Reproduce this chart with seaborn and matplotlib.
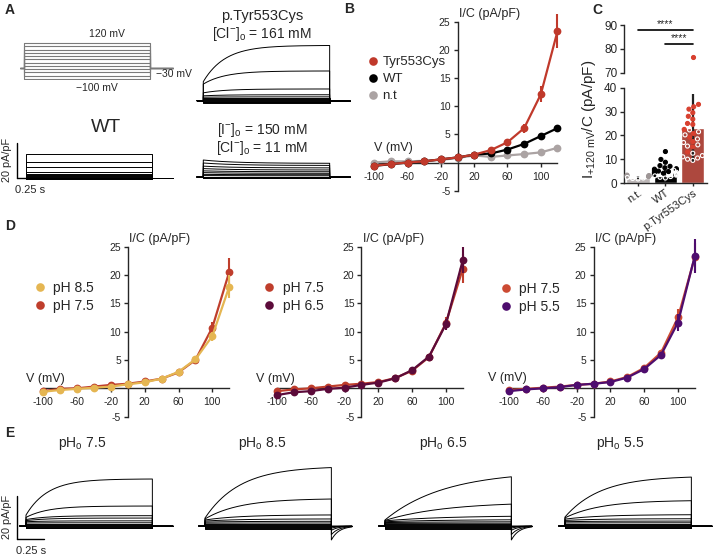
import warnings
warnings.filterwarnings('ignore')
import numpy as np
import pandas as pd
import matplotlib
matplotlib.use("Agg")
import matplotlib.pyplot as plt
import seaborn as sns
from matplotlib.lines import Line2D

sns.set_style("ticks")
plt.rcParams['font.family'] = ['Liberation Sans', 'DejaVu Sans']
plt.rcParams['mathtext.fontset'] = 'custom'
plt.rcParams['mathtext.rm'] = 'Liberation Sans'
plt.rcParams['mathtext.it'] = 'Liberation Sans:italic'
plt.rcParams['axes.unicode_minus'] = False
plt.rcParams['axes.linewidth'] = 1.0
plt.rcParams['xtick.major.width'] = 1.0
plt.rcParams['ytick.major.width'] = 1.0

# ---------------- data ----------------
V = [-100, -80, -60, -40, -20, 0, 20, 40, 60, 80, 100, 120]

# Panel B  (I/C, pA/pF)
tyr_B = [-0.56, -0.27, 0.0, 0.2, 0.56, 0.9, 1.4, 2.2, 3.6, 6.1, 12.1, 23.3]
tyr_B_err = [0.1, 0.1, 0.1, 0.1, 0.1, 0.1, 0.2, 0.3, 0.5, 0.8, 1.4, 3.0]
wt_B = [-0.6, -0.3, 0.0, 0.2, 0.56, 0.9, 1.4, 1.6, 2.3, 3.3, 4.7, 6.1]
wt_B_err = [0.1, 0.1, 0.1, 0.1, 0.1, 0.1, 0.1, 0.2, 0.3, 0.4, 0.5, 0.6]
nt_B = [0.0, 0.2, 0.2, 0.3, 0.45, 0.8, 1.25, 1.0, 1.25, 1.5, 1.8, 2.6]
nt_B_err = [0.1] * 12

# Panel C
groups = ['n.t.', 'WT', 'p.Tyr553Cys']
bar_means = [2.3, 2.8, 23.2]
bar_sd = [0.8, 2.5, 14.3]
nt_filled = [3.3, 3.1, 2.9, 2.7, 3.0]
nt_open = [2.1, 1.9, 1.7, 2.3]
wt_filled = [13.2, 9.9, 8.7, 7.3, 7.0, 6.4, 6.0, 5.8, 5.5, 5.2, 5.0, 4.8, 4.6, 4.3, 4.1, 3.8, 3.6, 3.3]
wt_open = [5.4, 4.5, 4.0, 3.6, 3.3, 3.0, 2.7, 2.4, 2.1]
tyr_filled = [76.5, 33.0, 32.0, 31.0, 29.5, 28.0, 26.8, 25.0, 24.6, 22.5, 20.8, 19.2, 17.4, 15.2, 13.0]
tyr_open = [22.3, 21.5, 20.2, 18.5, 17.0, 16.0, 15.5, 12.5, 11.5, 11.0, 10.5, 10.0, 9.5]

# Panel D
ph85_D1 = [-0.6, -0.3, -0.1, 0.1, 0.3, 0.7, 1.06, 1.7, 2.9, 5.1, 9.2, 17.9]
ph85_D1_err = [0.1] * 9 + [0.4, 0.8, 2.0]
ph75_D1 = [-0.5, -0.1, 0.0, 0.3, 0.6, 0.8, 1.2, 1.7, 2.8, 5.0, 10.7, 20.5]
ph75_D1_err = [0.1] * 9 + [0.4, 1.0, 2.5]
ph75_D2 = [-0.5, -0.2, 0.0, 0.3, 0.6, 0.8, 1.1, 1.8, 3.1, 5.5, 11.5, 21.1]
ph75_D2_err = [0.1] * 9 + [0.4, 1.0, 2.5]
ph65_D2 = [-1.2, -0.7, -0.5, -0.1, 0.1, 0.6, 1.0, 1.76, 3.2, 5.6, 11.3, 22.6]
ph65_D2_err = [0.1] * 9 + [0.4, 1.0, 2.3]
ph75_D3 = [-0.3, -0.1, 0.1, 0.3, 0.6, 0.8, 1.2, 2.0, 3.6, 6.3, 12.5, 23.2]
ph75_D3_err = [0.1] * 9 + [0.4, 1.5, 2.5]
ph55_D3 = [-0.5, -0.2, 0.0, 0.2, 0.6, 0.8, 1.1, 1.9, 3.4, 5.9, 11.6, 23.4]
ph55_D3_err = [0.1] * 9 + [0.4, 1.5, 3.0]

# Current traces: instantaneous / steady-state amplitudes (pA/pF), time constant, tail amplitude
A_tyr_init = [-1.2, -0.9, -0.6, -0.3, 0.3, 0.8, 1.4, 2.0, 2.8, 4.5, 9.5, 10.9]
A_tyr_ss = [-1.2, -0.9, -0.6, -0.3, 0.3, 0.8, 1.4, 2.2, 3.4, 6.7, 17.0, 31.6]
A_tyr_tau = 0.2
A_wt_init = [-0.9, -0.6, -0.3, 0.0, 0.3, 0.7, 1.2, 1.8, 2.9, 5.9, 8.7, 13.5]
A_wt_ss = A_wt_init
A_iod_init = [-0.8, -0.5, -0.2, 0.2, 0.8, 1.5, 2.5, 3.5, 4.8, 6.2, 8.0, 9.7]
A_iod_ss = [-0.8, -0.5, -0.2, 0.2, 0.7, 1.3, 2.1, 3.0, 4.0, 5.2, 6.6, 7.8]
A_iod_tau = 0.3
zero_tail = [0.0] * 12

E75_init = [-1.0, -0.7, -0.4, 0.0, 0.4, 0.9, 1.4, 2.0, 2.5, 3.0, 4.0, 5.1]
E75_ss = [-1.0, -0.7, -0.4, 0.0, 0.4, 0.9, 1.5, 2.4, 3.7, 4.8, 9.3, 21.9]
E75_tau = 0.2
E85_init = [-1.2, -0.9, -0.5, -0.1, 0.3, 0.8, 1.3, 1.8, 2.3, 2.8, 3.3, 3.7]
E85_ss = [-1.2, -0.9, -0.5, -0.1, 0.3, 0.8, 1.4, 2.2, 3.3, 5.2, 12.8, 27.8]
E85_tau = 0.32
E85_tail = [0, 0, 0, 0, 0, 0, 0, -0.5, -1.0, -2.0, -4.0, -6.5]
E65_init = [-1.2, -0.9, -0.5, -0.1, 0.3, 0.8, 1.2, 1.6, 2.0, 2.4, 2.6, 2.8]
E65_ss = [-1.2, -0.9, -0.5, -0.1, 0.3, 0.8, 1.3, 2.0, 3.0, 4.8, 11.2, 25.6]
E65_tau = 0.55
E65_tail = [0, 0, 0, 0, 0, 0, 0, -0.5, -1.0, -2.0, -4.0, -6.5]
E55_init = [-1.0, -0.7, -0.4, 0.0, 0.4, 0.9, 1.4, 2.0, 2.6, 3.2, 3.8, 4.2]
E55_ss = [-1.0, -0.7, -0.4, 0.0, 0.4, 0.9, 1.5, 2.3, 3.4, 5.3, 12.0, 23.3]
E55_tau = 0.33

# ---------------- colors ----------------
C_TYR = '#C0392B'
C_NT = '#ABA3A3'
C_85 = '#E5B652'
C_75 = '#BF3E2C'
C_65 = '#5C0B3A'
C_55 = '#4E0D6E'

W, H = 718, 559
fig = plt.figure(figsize=(W / 100, H / 100), dpi=100)


def px_axes(x0, y0, sx, sy, xlim, ylim):
    left = x0 + xlim[0] * sx
    right = x0 + xlim[1] * sx
    top = y0 - ylim[1] * sy
    bottom = y0 - ylim[0] * sy
    ax = fig.add_axes([left / W, 1 - bottom / H, (right - left) / W, (bottom - top) / H])
    ax.set_xlim(xlim)
    ax.set_ylim(ylim)
    return ax


def ftext(x, y, s, **kw):
    kw.setdefault('ha', 'center')
    kw.setdefault('va', 'center')
    fig.text(x / W, 1 - y / H, s, **kw)


T_PULSE = 1.17
PX_S = 108.0


def draw_traces(ax, init, ss, tau, tail, lw=0.7):
    t_pre = np.array([-0.06, 0.0])
    t_pulse = np.linspace(0, T_PULSE, 150)
    t_post = np.linspace(T_PULSE, T_PULSE + 0.19, 40)
    rows = []
    for k, (i0, iss, tl) in enumerate(zip(init, ss, tail)):
        y_pulse = iss - (iss - i0) * np.exp(-t_pulse / tau)
        y_post = tl * np.exp(-(t_post - T_PULSE) / 0.07)
        t = np.concatenate([t_pre, t_pulse, t_post])
        y = np.concatenate([[0.0, 0.0], y_pulse, y_post])
        rows.append(pd.DataFrame({'t': t, 'I': y, 'sweep': k}))
    df = pd.concat(rows)
    sns.lineplot(data=df, x='t', y='I', units='sweep', estimator=None, sort=False,
                 color='black', lw=lw, ax=ax, legend=False)
    ax.axis('off')


def scalebar(ax, t0, i0):
    ax.plot([t0, t0], [i0, i0 + 20], color='black', lw=1.0, clip_on=False)
    ax.plot([t0, t0 + 0.25], [i0, i0], color='black', lw=1.0, clip_on=False)


# ---------------- Panel A ----------------
ftext(10, 10, 'A', fontsize=10, fontweight='bold')
axp = px_axes(24, 62.6, PX_S, 0.1636, (-0.06, 1.4), (-105, 125))
prot_rows = []
for k, v in enumerate(V):
    t = [-0.035, 0, 0, T_PULSE, T_PULSE, T_PULSE + 0.21]
    vv = [-30, -30, v, v, -30, -30]
    prot_rows.append(pd.DataFrame({'t': t, 'V': vv, 'sweep': k}))
dfp = pd.concat(prot_rows)
sns.lineplot(data=dfp, x='t', y='V', units='sweep', estimator=None, sort=False,
             color='#7a7a7a', lw=0.8, ax=axp, legend=False)
axp.axis('off')
ftext(107, 34, '120 mV', fontsize=7.5)
ftext(97, 88, '−100 mV', fontsize=7.5)
ftext(174, 74, '−30 mV', fontsize=7.5)

ax_tyr = px_axes(203.3, 100.7, PX_S, 1.75, (-0.1, 1.4), (-5, 35))
draw_traces(ax_tyr, A_tyr_init, A_tyr_ss, A_tyr_tau, zero_tail)
ftext(262, 16, 'p.Tyr553Cys', fontsize=10.5)
ftext(262, 34, '[Cl$^{-}$]$_{\\rm o}$ = 161 mM', fontsize=10)

ax_wt = px_axes(26, 177.5, PX_S, 1.75, (-0.1, 1.4), (-5, 30))
draw_traces(ax_wt, A_wt_init, A_wt_ss, 0.2, zero_tail)
scalebar(ax_wt, -0.08, 0.0)
ftext(106, 128, 'WT', fontsize=14)
ftext(7, 160, '20 pA/pF', fontsize=7.8, rotation=90)
ftext(30, 190, '0.25 s', fontsize=8)

ax_iod = px_axes(203.3, 177.0, PX_S, 1.75, (-0.1, 1.4), (-5, 30))
draw_traces(ax_iod, A_iod_init, A_iod_ss, A_iod_tau, zero_tail)
ftext(262, 130, '[I$^{-}$]$_{\\rm o}$ = 150 mM', fontsize=10)
ftext(262, 148, '[Cl$^{-}$]$_{\\rm o}$ = 11 mM', fontsize=10)


# ---------------- IV panel helper ----------------
def iv_panel(x0, y0, sx, sy, series, legend_order, leg_x, leg_y, vlab, leg_fs, leg_pad, leg_ls):
    ax = px_axes(x0, y0, sx, sy, (-112, 132), (-5, 25))
    for z, (name, ys, errs, color) in enumerate(series):
        ax.errorbar(V, ys, yerr=errs, fmt='none', ecolor=color, elinewidth=1.5,
                    capsize=0, zorder=3 + 2 * z, clip_on=False)
        df = pd.DataFrame({'V': V, 'I': ys})
        sns.lineplot(data=df, x='V', y='I', color=color, marker='o', markersize=5.6,
                     markeredgewidth=0, lw=1.6, ax=ax, zorder=4 + 2 * z,
                     errorbar=None, clip_on=False)
    sns.despine(ax=ax)
    ax.spines['left'].set_position(('data', 0))
    ax.spines['bottom'].set_position(('data', 0))
    ax.spines['left'].set_bounds(-5, 25)
    ax.spines['bottom'].set_bounds(-100, 120)
    ax.set_yticks([-5, 5, 10, 15, 20, 25])
    ax.set_xticks([-100, -60, -20, 20, 60, 100])
    ax.tick_params(axis='both', labelsize=7.5, length=3, pad=2)
    ax.tick_params(axis='x', pad=3.5)
    ax.set_xlabel('')
    ax.set_ylabel('')
    ax.text(2, 26.4, 'I/C (pA/pF)', fontsize=9, ha='left', va='center')
    ax.text(vlab[0], vlab[1], 'V (mV)', fontsize=9, ha='center', va='center')
    lookup = {n: c for (n, _, _, c) in series}
    handles = [Line2D([0], [0], marker='o', ls='', color=lookup[n], markersize=6.2,
                      markeredgewidth=0) for n in legend_order]
    ax.legend(handles, legend_order, loc='upper left',
              bbox_to_anchor=(leg_x / W, 1 - leg_y / H), bbox_transform=fig.transFigure,
              frameon=False, handlelength=1.0, handletextpad=leg_pad, borderpad=0,
              borderaxespad=0, labelspacing=leg_ls, fontsize=leg_fs)
    return ax


# ---------------- Panel B ----------------
ftext(349, 9, 'B', fontsize=10, fontweight='bold')
iv_panel(457.5, 162.5, 0.833, 5.63,
         [('n.t', nt_B, nt_B_err, C_NT), ('WT', wt_B, wt_B_err, 'black'),
          ('Tyr553Cys', tyr_B, tyr_B_err, C_TYR)],
         ['Tyr553Cys', 'WT', 'n.t'],
         366.7, 56, (-77, 2.6), 9.5, 0.2, 0.36)

# ---------------- Panel C ----------------
ftext(597, 10, 'C', fontsize=10, fontweight='bold')
cx0, cx1 = 624.3, 706.5
axl = fig.add_axes([cx0 / W, 1 - 183 / H, (cx1 - cx0) / W, (183 - 87.7) / H])
axu = fig.add_axes([cx0 / W, 1 - 72.7 / H, (cx1 - cx0) / W, (72.7 - 25) / H])

dfb = pd.DataFrame({'group': groups, 'mean': bar_means})
sns.barplot(data=dfb, x='group', y='mean', hue='group', order=groups,
            palette={'n.t.': '#BDB5B5', 'WT': 'black', 'p.Tyr553Cys': C_TYR},
            width=0.85, errorbar=None, legend=False, ax=axl)
axl.errorbar([0, 1, 2], bar_means, yerr=bar_sd, fmt='none', ecolor='#222222',
             elinewidth=1.6, capsize=0, zorder=3)

pts = []
for g, vals, kind in [('n.t.', nt_filled, 'nt_f'), ('n.t.', nt_open, 'nt_o'),
                      ('WT', wt_filled, 'wt_f'), ('WT', wt_open, 'wt_o'),
                      ('p.Tyr553Cys', tyr_filled, 'ty_f'), ('p.Tyr553Cys', tyr_open, 'ty_o')]:
    for v in vals:
        pts.append((g, v, kind))
dfs = pd.DataFrame(pts, columns=['group', 'value', 'kind'])
pal = {'nt_f': '#9E9696', 'nt_o': '#010203', 'wt_f': '#000000', 'wt_o': '#020304',
       'ty_f': '#D8402F', 'ty_o': '#030405'}
open_keys = {matplotlib.colors.to_hex(pal[k]) for k in ['nt_o', 'wt_o', 'ty_o']}


def swarm(ax, data):
    n0 = len(ax.collections)
    sns.swarmplot(data=data, x='group', y='value', hue='kind', palette=pal, order=groups,
                  hue_order=list(pal.keys()), dodge=False, size=2.9, ax=ax, legend=False,
                  linewidth=0.8, zorder=4)
    for coll in ax.collections[n0:]:
        fcs = coll.get_facecolors()
        new_fc, new_ec = [], []
        for fc in fcs:
            if matplotlib.colors.to_hex(fc) in open_keys:
                new_fc.append((0, 0, 0, 0))
                new_ec.append((1, 1, 1, 1))
            else:
                new_fc.append(tuple(fc))
                new_ec.append(tuple(fc))
        coll.set_facecolors(new_fc)
        coll.set_edgecolors(new_ec)
        coll.set_linewidth(0.8)


swarm(axl, dfs[dfs['value'] < 40])
axl.set_ylim(0, 40)
axl.set_xlim(-0.5, 2.5)
axl.set_yticks([0, 10, 20, 30, 40])
axl.set_xlabel('')
axl.set_ylabel('')
sns.despine(ax=axl)
axl.tick_params(axis='y', labelsize=8.5, length=3, pad=2)
axl.tick_params(axis='x', labelsize=8, length=2.5, pad=1)
axl.set_xticks([0, 1, 2])
axl.set_xticklabels(groups, rotation=35, ha='right', va='top', rotation_mode='anchor')

swarm(axu, dfs[dfs['value'] >= 70])
axu.set_ylim(70, 90)
axu.set_xlim(-0.5, 2.5)
axu.set_yticks([70, 80, 90])
axu.set_xticks([])
axu.set_xlabel('')
axu.set_ylabel('')
sns.despine(ax=axu, bottom=True)
axu.tick_params(axis='y', labelsize=8.5, length=3, pad=2)
axu.plot([0, 2], [88, 88], color='black', lw=1.2)
axu.plot([1, 2], [82, 82], color='black', lw=1.2)
axu.text(1, 88.4, '****', ha='center', va='bottom', fontsize=7.5)
axu.text(1.5, 82.4, '****', ha='center', va='bottom', fontsize=7.5)
ftext(589, 119, '$\\mathrm{I}_{+120\\ \\mathrm{mV}}$/C (pA/pF)', fontsize=11, rotation=90)

# ---------------- Panel D ----------------
ftext(10, 226, 'D', fontsize=10, fontweight='bold')
iv_panel(127.8, 388.3, 0.845, 5.67,
         [('pH 7.5', ph75_D1, ph75_D1_err, C_75), ('pH 8.5', ph85_D1, ph85_D1_err, C_85)],
         ['pH 8.5', 'pH 7.5'],
         33, 281, (-98, 1.6), 10, 0.42, 0.3)
iv_panel(361.4, 388.3, 0.845, 5.67,
         [('pH 7.5', ph75_D2, ph75_D2_err, C_75), ('pH 6.5', ph65_D2, ph65_D2_err, C_65)],
         ['pH 7.5', 'pH 6.5'],
         262, 281, (-102, 1.6), 10, 0.5, 0.3)
iv_panel(593.5, 388.3, 0.845, 5.67,
         [('pH 7.5', ph75_D3, ph75_D3_err, '#CC4B33'), ('pH 5.5', ph55_D3, ph55_D3_err, C_55)],
         ['pH 7.5', 'pH 5.5'],
         499, 282, (-102, 1.8), 10, 0.42, 0.3)

# ---------------- Panel E ----------------
ftext(10, 433, 'E', fontsize=10, fontweight='bold')
e_specs = [
    (26, 'pH$_{\\rm o}$ 7.5', E75_init, E75_ss, E75_tau, zero_tail, 82),
    (205, 'pH$_{\\rm o}$ 8.5', E85_init, E85_ss, E85_tau, E85_tail, 262),
    (385, 'pH$_{\\rm o}$ 6.5', E65_init, E65_ss, E65_tau, E65_tail, 443),
    (565, 'pH$_{\\rm o}$ 5.5', E55_init, E55_ss, E55_tau, zero_tail, 620),
]
for k, (onset, title, ini, ss, tau, tail, tx) in enumerate(e_specs):
    ax = px_axes(onset, 526, PX_S, 2.15, (-0.1, 1.4), (-8, 30))
    draw_traces(ax, ini, ss, tau, tail)
    ftext(tx, 443, title, fontsize=10)
    if k == 0:
        scalebar(ax, -0.083, -6.05)
ftext(7, 517, '20 pA/pF', fontsize=7.8, rotation=90)
ftext(31, 551, '0.25 s', fontsize=8)

fig.savefig('out.png', dpi=100)
